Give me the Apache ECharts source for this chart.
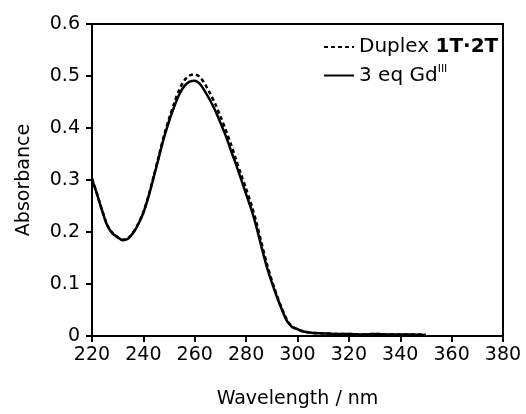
<!DOCTYPE html>
<html>
<head>
<meta charset="utf-8">
<script src="https://cdn.jsdelivr.net/npm/echarts@6/dist/echarts.min.js"></script>
<style>html,body{margin:0;padding:0;background:#fff;}#c{width:526px;height:414px;}</style>
</head>
<body>
<div id="c"></div>
<script>
const wavelength = [220,222,224,226,228,230,232,234,236,238,240,242,244,246,248,250,252,254,256,258,260,262,264,266,268,270,272,274,276,278,280,282,284,286,288,290,292,294,296,298,300,302,304,306,310,315,320,325,330,335,340,345,350];
const duplex = [0.303,0.273,0.241,0.213,0.198,0.190,0.185,0.188,0.199,0.216,0.238,0.270,0.307,0.346,0.385,0.418,0.448,0.474,0.492,0.501,0.503,0.498,0.484,0.466,0.446,0.422,0.397,0.370,0.341,0.311,0.283,0.253,0.219,0.179,0.140,0.107,0.078,0.052,0.030,0.018,0.013,0.009,0.007,0.006,0.005,0.004,0.004,0.003,0.004,0.003,0.003,0.003,0.002];
const gd3 = [0.302,0.272,0.240,0.212,0.197,0.190,0.184,0.187,0.198,0.215,0.237,0.268,0.305,0.343,0.381,0.413,0.441,0.465,0.481,0.489,0.491,0.485,0.470,0.453,0.433,0.410,0.386,0.358,0.331,0.302,0.273,0.244,0.210,0.171,0.134,0.103,0.075,0.050,0.028,0.017,0.013,0.009,0.007,0.006,0.005,0.004,0.004,0.003,0.004,0.003,0.003,0.003,0.002];
const xTicks = {min:220, max:380, interval:20};
const yTicks = {min:0, max:0.6, interval:0.1};

const FONT = 'DejaVu Sans';
const chart = echarts.init(document.getElementById('c'), null, {renderer:'canvas'});
const pair = (xs, ys) => xs.map((x,i)=>[x, ys[i]]);
chart.setOption({
  animation:false,
  backgroundColor:'#fff',
  grid:{left:92, right:23, top:24, bottom:71, show:true, borderColor:'#000', borderWidth:2, backgroundColor:'transparent'},
  legend:{
    orient:'vertical', left:318, top:32, itemWidth:30, itemHeight:14, itemGap:7, padding:5,
    data:['Duplex','Gd'],
    itemStyle:{opacity:0},
    textStyle:{fontFamily:FONT, fontSize:20, color:'#000',
      rich:{
        n:{fontFamily:FONT, fontSize:20, color:'#000', lineHeight:23},
        b:{fontFamily:FONT, fontSize:20, fontWeight:'bold', color:'#000', lineHeight:23},
        s:{fontFamily:FONT, fontSize:11, color:'#000', lineHeight:23, verticalAlign:'top', padding:[0,0,8,0]}
      }},
    formatter: function(name){ return name==='Duplex' ? '{n|Duplex }{b|1T·2T}' : '{n|3 eq Gd}{s|III}'; }
  },
  xAxis:{
    type:'value', min:xTicks.min, max:xTicks.max, interval:xTicks.interval,
    name:'Wavelength / nm', nameLocation:'middle', nameGap:54,
    nameTextStyle:{fontFamily:FONT, fontSize:19, color:'#000'},
    axisLine:{show:true, lineStyle:{color:'#000', width:2}},
    axisTick:{show:true, inside:false, length:6, lineStyle:{color:'#000', width:2}},
    axisLabel:{fontFamily:FONT, fontSize:19, color:'#000', margin:10},
    splitLine:{show:false}
  },
  yAxis:{
    type:'value', min:yTicks.min, max:yTicks.max, interval:yTicks.interval,
    name:'Absorbance', nameLocation:'middle', nameGap:58,
    nameTextStyle:{fontFamily:FONT, fontSize:19, color:'#000'},
    axisLine:{show:true, lineStyle:{color:'#000', width:2}},
    axisTick:{show:true, inside:false, length:6, lineStyle:{color:'#000', width:2}},
    axisLabel:{fontFamily:FONT, fontSize:19, color:'#000', margin:12},
    splitLine:{show:false}
  },
  series:[
    {name:'Gd', type:'line', data:pair(wavelength, gd3), symbol:'none', smooth:0.3,
     lineStyle:{color:'#000', width:2.5, type:'solid'}, itemStyle:{color:'#000'}, z:3},
    {name:'Duplex', type:'line', data:pair(wavelength, duplex), symbol:'none', smooth:0.3,
     lineStyle:{color:'#000', width:2.5, type:[4,3]}, itemStyle:{color:'#000'}, z:2}
  ]
});
</script>
</body>
</html>
